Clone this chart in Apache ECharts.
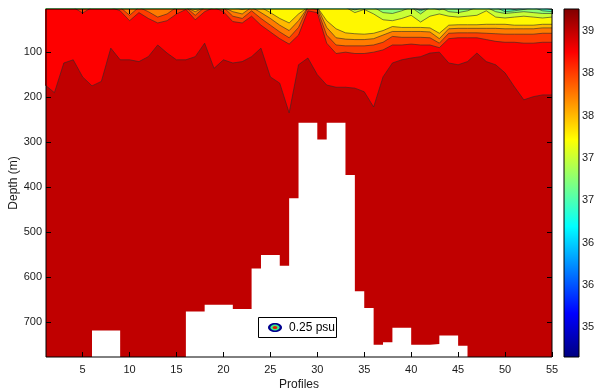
<!DOCTYPE html>
<html>
<head>
<meta charset="utf-8">
<title>Salinity section</title>
<script src="https://cdn.jsdelivr.net/npm/echarts@6/dist/echarts.min.js"></script>
<style>
  html, body { margin: 0; padding: 0; background: #fff; }
  #chart { width: 594px; height: 390px; }
</style>
</head>
<body>
<div id="chart"></div>
<script>
// profile numbers along the section
const profiles = [1, 2, 3, 4, 5, 6, 7, 8, 9, 10, 11, 12, 13, 14, 15, 16, 17, 18, 19, 20,
  21, 22, 23, 24, 25, 26, 27, 28, 29, 30, 31, 32, 33, 34, 35, 36, 37, 38, 39, 40,
  41, 42, 43, 44, 45, 46, 47, 48, 49, 50, 51, 52, 53, 54, 55]

// contour levels (psu), interval 0.25
const levels = [39.0, 38.75, 38.5, 38.25, 38.0, 37.75, 37.5, 37.25, 37.0]

// depth (m) of each isohaline per profile, 0 = fresher water not present
const iso3900 = [173, 190, 124, 117, 155, 175, 165, 91, 117, 117, 121, 110, 84, 102, 117, 117, 110, 80, 136, 117,
  124, 121, 110, 91, 155, 169, 235, 128, 113, 150, 173, 178, 178, 180, 188, 222, 155, 124, 117, 113,
  110, 102, 100, 124, 128, 121, 102, 121, 128, 146, 177, 206, 199, 195, 195]
const iso3875 = [0, 0, 0, 0, 13, 0, 0, 0, 8, 30, 12, 25, 35, 30, 15, 5, 28, 10, 0, 10,
  32, 35, 20, 40, 55, 70, 82, 62, 8, 12, 80, 103, 100, 103, 103, 100, 95, 84, 84, 82,
  84, 84, 90, 70, 68, 68, 68, 72, 76, 78, 78, 80, 80, 78, 78]
const iso3850 = [0, 0, 0, 0, 0, 0, 0, 0, 0, 18, 0, 10, 22, 15, 0, 0, 18, 0, 0, 0,
  20, 25, 8, 25, 40, 55, 68, 45, 0, 5, 62, 84, 86, 86, 86, 84, 78, 65, 67, 67,
  67, 68, 80, 58, 57, 57, 57, 58, 59, 60, 60, 60, 60, 58, 58]
const iso3825 = [0, 0, 0, 0, 0, 0, 0, 0, 0, 0, 0, 0, 0, 0, 0, 0, 10, 0, 0, 0,
  10, 15, 0, 12, 25, 40, 52, 30, 0, 0, 45, 68, 71, 72, 72, 70, 62, 54, 54, 54,
  54, 55, 70, 48, 47, 47, 47, 47, 47, 48, 48, 48, 48, 46, 46]
const iso3800 = [0, 0, 0, 0, 0, 0, 0, 0, 0, 0, 0, 0, 0, 0, 0, 0, 5, 0, 0, 0,
  0, 5, 0, 0, 12, 25, 35, 15, 0, 0, 30, 48, 57, 59, 60, 58, 52, 43, 45, 45,
  45, 46, 58, 40, 39, 39, 39, 38, 38, 38, 40, 40, 40, 38, 38]
const iso3775 = [0, 0, 0, 0, 0, 0, 0, 0, 0, 0, 0, 0, 0, 0, 0, 0, 0, 0, 0, 0,
  0, 0, 0, 0, 0, 0, 0, 0, 0, 0, 0, 0, 0, 12, 5, 15, 28, 30, 25, 18,
  33, 20, 15, 20, 22, 20, 18, 8, 22, 24, 22, 20, 22, 24, 22]
const iso3750 = [0, 0, 0, 0, 0, 0, 0, 0, 0, 0, 0, 0, 0, 0, 0, 0, 0, 0, 0, 0,
  0, 0, 0, 0, 0, 0, 0, 0, 0, 0, 0, 0, 0, 6, 0, 0, 12, 14, 8, 0,
  15, 0, 0, 10, 12, 8, 0, 0, 10, 14, 12, 10, 12, 14, 14]
const iso3725 = [0, 0, 0, 0, 0, 0, 0, 0, 0, 0, 0, 0, 0, 0, 0, 0, 0, 0, 0, 0,
  0, 0, 0, 0, 0, 0, 0, 0, 0, 0, 0, 0, 0, 0, 0, 0, 0, 0, 0, 0,
  8, 0, 6, 0, 0, 0, 0, 0, 0, 10, 8, 5, 0, 8, 10]
const iso3700 = [0, 0, 0, 0, 0, 0, 0, 0, 0, 0, 0, 0, 0, 0, 0, 0, 0, 0, 0, 0,
  0, 0, 0, 0, 0, 0, 0, 0, 0, 0, 0, 0, 0, 0, 0, 0, 0, 0, 0, 0,
  5, 0, 0, 0, 0, 0, 0, 0, 0, 0, 5, 0, 0, 0, 6]

// deepest sampled depth (m) starting at each profile step
const bottomProfiles = [1, 6, 9, 16, 18, 21, 23, 24, 26, 27, 28, 30, 31, 33, 34, 35, 36, 37, 38, 40, 42, 43, 45, 46, 55]
const bottomDepths = [778, 719, 778, 677, 662, 671, 581, 551, 575, 425, 257, 294, 257, 373, 632, 669, 751, 745, 713, 751, 749, 730, 753, 778, 778]

const profileTicks = [5, 10, 15, 20, 25, 30, 35, 40, 45, 50, 55]
const depthTicks = [100, 200, 300, 400, 500, 600, 700]
const colorTicks = [35.5, 36, 36.5, 37, 37.5, 38, 38.5, 39]
const colorRange = [35.15, 39.26]

const isoDepths = [iso3900, iso3875, iso3850, iso3825, iso3800, iso3775, iso3750, iso3725, iso3700]

// matlab jet colormap
function jet(v) {
  const t = (v - colorRange[0]) / (colorRange[1] - colorRange[0])
  const c = x => Math.round(255 * Math.max(0, Math.min(1, x)))
  return 'rgb(' + c(Math.min(4 * t - 1.5, -4 * t + 4.5)) + ',' +
    c(Math.min(4 * t - 0.5, -4 * t + 3.5)) + ',' +
    c(Math.min(4 * t + 0.5, -4 * t + 2.5)) + ')'
}

const font = '"Liberation Sans", Arial, sans-serif'
const textColor = '#1a1a1a'

const series = [{
  name: 'bottom',
  type: 'line',
  step: 'end',
  symbol: 'none',
  silent: true,
  data: bottomProfiles.map((p, i) => [p, bottomDepths[i]]),
  lineStyle: { width: 0, opacity: 0 },
  areaStyle: { color: jet(levels[0]), opacity: 1, origin: 'start' }
}]
levels.forEach((lv, k) => {
  series.push({
    name: String(lv),
    type: 'line',
    symbol: 'none',
    silent: true,
    data: profiles.map((p, i) => [p, isoDepths[k][i]]),
    lineStyle: { color: '#2b2b2b', width: 0.7, opacity: 0.85 },
    areaStyle: { color: jet(lv - 0.25), opacity: 1, origin: 'start' }
  })
})
// colour bar
series.push({
  name: 'colorbar',
  type: 'bar',
  xAxisIndex: 2,
  yAxisIndex: 2,
  silent: true,
  barWidth: '100%',
  data: [colorRange[1]],
  itemStyle: {
    color: {
      type: 'linear', x: 0, y: 0, x2: 0, y2: 1,
      colorStops: [
        { offset: 0, color: '#800000' },
        { offset: 0.125, color: '#ff0000' },
        { offset: 0.375, color: '#ffff00' },
        { offset: 0.625, color: '#00ffff' },
        { offset: 0.875, color: '#0000ff' },
        { offset: 1, color: '#000080' }
      ]
    }
  }
})

const chart = echarts.init(document.getElementById('chart'))
const option = {
  animation: false,
  backgroundColor: '#fff',
  textStyle: { fontFamily: font },
  grid: [
    { left: 46, top: 9, width: 506, height: 348, outerBoundsMode: 'none', show: true, z: 5, backgroundColor: 'transparent', borderColor: '#000', borderWidth: 1 },
    { left: 564, top: 9, width: 15, height: 348, outerBoundsMode: 'none', show: true, z: 5, backgroundColor: 'transparent', borderColor: '#000', borderWidth: 1 }
  ],
  xAxis: [
    {
      type: 'value', gridIndex: 0, min: 1.1, max: 55, z: 6,
      name: 'Profiles', nameLocation: 'middle', nameGap: 22, nameMoveOverlap: false,
      nameTextStyle: { fontSize: 12, color: textColor, fontFamily: font },
      axisLine: { show: false },
      splitLine: { show: false },
      axisTick: { inside: true, length: 5, lineStyle: { color: '#000' }, customValues: profileTicks },
      axisLabel: { fontSize: 11, color: textColor, margin: 7, customValues: profileTicks }
    },
    {
      type: 'value', gridIndex: 0, position: 'top', min: 1.1, max: 55, z: 6,
      axisLine: { show: false },
      splitLine: { show: false },
      axisTick: { inside: true, length: 5, lineStyle: { color: '#000' }, customValues: profileTicks },
      axisLabel: { show: false }
    },
    {
      type: 'category', gridIndex: 1, data: ['S'],
      axisLine: { show: false }, axisTick: { show: false }, axisLabel: { show: false }
    }
  ],
  yAxis: [
    {
      type: 'value', gridIndex: 0, inverse: true, min: 4, max: 778, z: 6,
      name: 'Depth (m)', nameLocation: 'middle', nameGap: 26, nameMoveOverlap: false,
      nameTextStyle: { fontSize: 12, color: textColor, fontFamily: font },
      axisLine: { show: false },
      splitLine: { show: false },
      axisTick: { inside: true, length: 5, lineStyle: { color: '#000' }, customValues: depthTicks },
      axisLabel: { fontSize: 11, color: textColor, margin: 4, customValues: depthTicks }
    },
    {
      type: 'value', gridIndex: 0, position: 'right', inverse: true, min: 4, max: 778, z: 6,
      axisLine: { show: false },
      splitLine: { show: false },
      axisTick: { inside: true, length: 5, lineStyle: { color: '#000' }, customValues: depthTicks },
      axisLabel: { show: false }
    },
    {
      type: 'value', gridIndex: 1, position: 'right', min: colorRange[0], max: colorRange[1], z: 6,
      axisLine: { show: false },
      splitLine: { show: false },
      axisTick: { inside: true, length: 3, lineStyle: { color: '#000' }, customValues: colorTicks },
      axisLabel: { fontSize: 11, color: textColor, margin: 3, customValues: colorTicks }
    }
  ],
  graphic: [
    {
      type: 'group', left: 258, top: 317, z: 100,
      children: [
        { type: 'rect', shape: { x: 0.5, y: 0.5, width: 78, height: 20 }, style: { fill: '#fff', stroke: '#000', lineWidth: 1 } },
        { type: 'ellipse', shape: { cx: 17, cy: 10.5, rx: 7, ry: 4.5 }, style: { fill: '#00008f' } },
        { type: 'ellipse', shape: { cx: 17, cy: 10.5, rx: 4.6, ry: 3 }, style: { fill: '#3cf08c' } },
        { type: 'ellipse', shape: { cx: 17, cy: 10.5, rx: 2.4, ry: 1.6 }, style: { fill: '#e02000' } },
        { type: 'text', x: 31, y: 10.5, style: { text: '0.25 psu', fill: '#000', font: '12px ' + font, verticalAlign: 'middle' } }
      ]
    }
  ],
  series: series
}
chart.setOption(option)
</script>
</body>
</html>
